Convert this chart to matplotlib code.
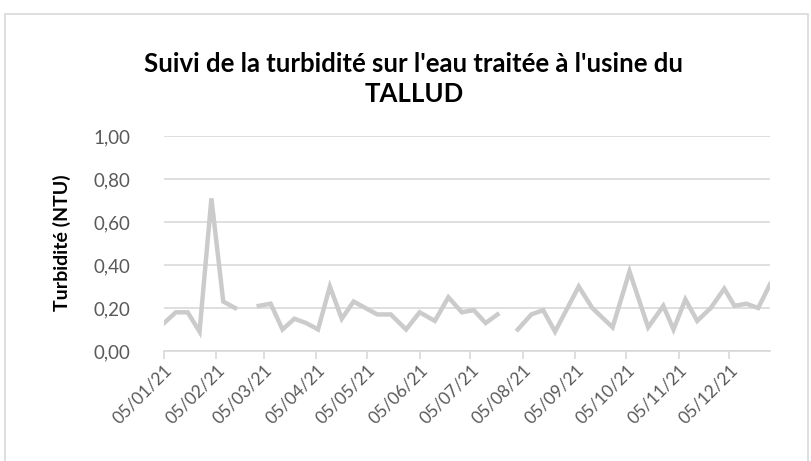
import numpy as np
import pandas as pd
import matplotlib
matplotlib.use("Agg")
from matplotlib import pyplot as plt
import matplotlib.dates as mdates
from matplotlib.ticker import FuncFormatter
from matplotlib.patches import Rectangle

plt.rcParams['font.family'] = ['Lato', 'DejaVu Sans']

# sampling dates (2021) and turbidity readings, None = no measurement
dates = ["2021-01-05", "2021-01-12", "2021-01-19", "2021-01-26", "2021-02-02",
         "2021-02-09", "2021-02-16", "2021-02-23", "2021-03-02", "2021-03-09",
         "2021-03-16", "2021-03-23", "2021-03-30", "2021-04-06", "2021-04-13",
         "2021-04-20", "2021-04-27", "2021-05-04", "2021-05-11", "2021-05-19",
         "2021-05-28", "2021-06-05", "2021-06-14", "2021-06-22", "2021-06-30",
         "2021-07-07", "2021-07-14", "2021-07-21", "2021-07-27", "2021-08-02",
         "2021-08-10", "2021-08-17", "2021-08-24", "2021-09-07", "2021-09-15",
         "2021-09-27", "2021-10-07", "2021-10-18", "2021-10-27", "2021-11-02",
         "2021-11-09", "2021-11-16", "2021-11-24", "2021-12-02", "2021-12-08",
         "2021-12-15", "2021-12-22", "2021-12-29"]
turbidity = [0.13, 0.18, 0.18, 0.09, 0.71,
             0.23, 0.20, None, 0.21, 0.22,
             0.10, 0.15, 0.13, 0.10, 0.30,
             0.15, 0.23, 0.20, 0.17, 0.17,
             0.10, 0.18, 0.14, 0.25, 0.18,
             0.19, 0.13, 0.17, None, 0.10,
             0.17, 0.19, 0.09, 0.30, 0.20,
             0.11, 0.37, 0.11, 0.21, 0.10,
             0.24, 0.14, 0.20, 0.29, 0.21,
             0.22, 0.20, 0.31]
tick_dates = ["2021-%02d-05" % m for m in range(1, 13)]
y_ticks = [0.0, 0.2, 0.4, 0.6, 0.8, 1.0]

x = pd.to_datetime(dates)
y = np.array([np.nan if v is None else v for v in turbidity])

W, H = 812, 461
fig = plt.figure(figsize=(W / 100, H / 100), dpi=100)
ax = fig.add_axes([164 / W, 1 - 351 / H, (770 - 164) / W, (351 - 136) / H])

ax.plot(x, y, color="#cbcbcb", linewidth=3.2, solid_joinstyle="miter", zorder=3)

ax.set_xlim(x[0], x[-1])
ax.set_ylim(0, 1.0)
ax.set_yticks(y_ticks)
ax.yaxis.set_major_formatter(FuncFormatter(lambda v, p: ("%.2f" % v).replace(".", ",")))
ax.grid(axis="y", color="#d9d9d9", linewidth=1.2)
ax.set_axisbelow(True)

ax.set_xticks(pd.to_datetime(tick_dates))
ax.xaxis.set_major_formatter(mdates.DateFormatter("%d/%m/%y"))
for lab in ax.get_xticklabels():
    lab.set_rotation(45)
    lab.set_ha("right")
    lab.set_va("top")
    lab.set_rotation_mode("anchor")

for s in ["top", "right", "left"]:
    ax.spines[s].set_visible(False)
ax.spines["bottom"].set_color("#d9d9d9")
ax.spines["bottom"].set_linewidth(1.2)
ax.tick_params(axis="x", colors="#d9d9d9", labelcolor="#595959", length=6,
               width=1.2, labelsize=12.5, pad=2)
ax.tick_params(axis="y", length=0, labelcolor="#595959", labelsize=13.5, pad=24)

fig.text(414 / W, 1 - 79 / H,
         "Suivi de la turbidité sur l'eau traitée à l'usine du\nTALLUD",
         ha="center", va="center", fontsize=18.5, fontweight="bold",
         color="#000000", linespacing=1.3)
fig.text(62 / W, 1 - 243 / H, "Turbidité (NTU)", rotation=90,
         ha="center", va="center", fontsize=14, fontweight="bold", color="#000000")

fig.patches.append(Rectangle((5 / W, -0.2), (808 - 5) / W, 1.2 - 14 / H,
                             transform=fig.transFigure, fill=False,
                             edgecolor="#d9d9d9", linewidth=1.2))

fig.savefig("out.png", dpi=100)
